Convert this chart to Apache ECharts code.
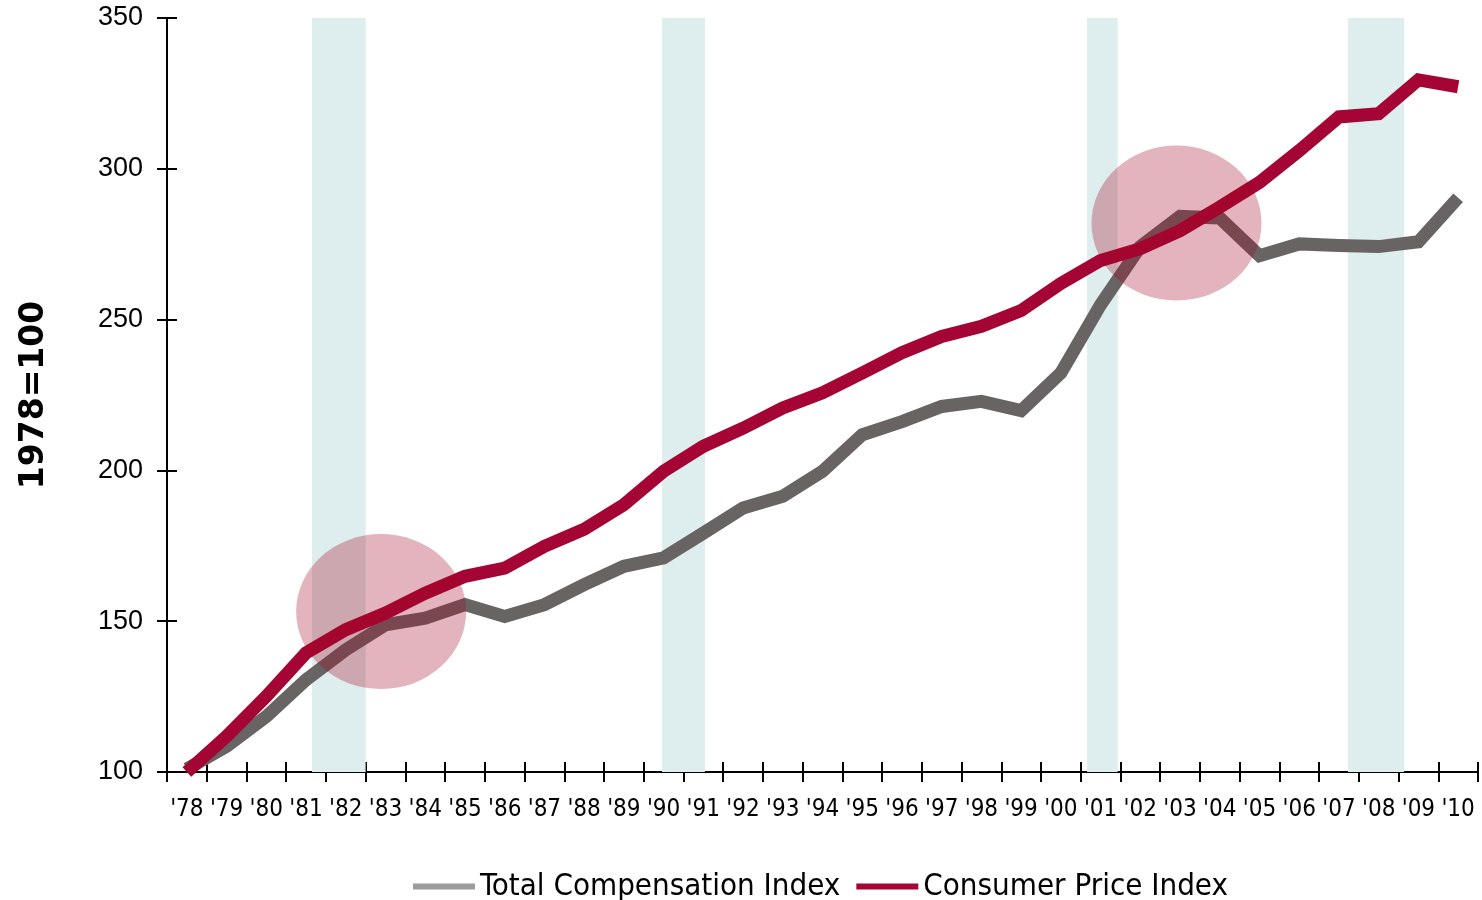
<!DOCTYPE html>
<html lang="en">
<head>
    <meta charset="UTF-8">
    <title>Total Compensation vs Consumer Price Index</title>
    <script src="https://cdn.jsdelivr.net/npm/echarts@6/dist/echarts.min.js"></script>
    <style>
        body { margin: 0; padding: 0; background: #fff; }
        #main { width: 1482px; height: 900px; }
    </style>
</head>
<body>
    <div id="main"></div>
    <script>
        const years = ["'78","'79","'80","'81","'82","'83","'84","'85","'86","'87","'88","'89","'90","'91","'92","'93","'94","'95","'96","'97","'98","'99","'00","'01","'02","'03","'04","'05","'06","'07","'08","'09","'10"];
        const compensation = [101, 108.5, 118.4, 130.6, 140.5, 148.8, 151, 155.5, 151.6, 155.5, 162.1, 168.2, 171, 179.2, 187.5, 191.4, 199.7, 211.8, 216.2, 221.2, 222.9, 219.8, 232.3, 254.9, 274.2, 284.2, 283.7, 271.2, 275.1, 274.6, 274.2, 275.8, 290.4];
        const cpi = [100, 111.8, 125.1, 139.5, 147.2, 152.7, 159.3, 164.9, 167.6, 174.8, 180.5, 188.6, 199.7, 208, 214, 220.7, 225.7, 232.3, 239, 244.4, 247.8, 253, 262, 269.6, 273.5, 279.5, 287.3, 295.5, 306, 317.2, 318.3, 329.5, 327.2];
        // recession bands, in category units from the left edge of the axis
        const recessions = [[3.65, 5.0], [12.46, 13.54], [23.16, 23.93], [29.73, 31.14]];
        // highlight circles [x in category units, index value]
        const highlights = [[5.39, 153.2], [25.41, 282.0]];

        const GRAY = '#686463';
        const RED = '#a50534';
        const narrow = "'Liberation Sans Narrow', 'DejaVu Sans Condensed', 'Liberation Sans', sans-serif";

        const chart = echarts.init(document.getElementById('main'));
        chart.setOption({
            animation: false,
            grid: { left: 167, right: 4, top: 18, bottom: 128 },
            xAxis: [
                {
                    type: 'category', data: years, boundaryGap: true,
                    axisLine: { lineStyle: { color: '#000', width: 2 } },
                    axisTick: { show: true, interval: 0, length: 10, lineStyle: { color: '#000', width: 2 } },
                    axisLabel: { interval: 0, margin: 26, color: '#000', fontSize: 24, fontFamily: narrow }
                },
                { type: 'value', min: 0, max: years.length, show: false },
                {
                    type: 'category', data: years, boundaryGap: true, position: 'bottom',
                    axisLine: { show: false },
                    axisTick: { show: true, inside: true, interval: 0, length: 10, lineStyle: { color: '#000', width: 2 } },
                    axisLabel: { show: false }
                }
            ],
            yAxis: [
                {
                    type: 'value', min: 100, max: 350, interval: 50,
                    name: '1978=100', nameLocation: 'middle', nameGap: 116, nameRotate: 90,
                    nameTextStyle: { fontFamily: 'DejaVu Sans', fontWeight: 'bold', fontSize: 33, color: '#000' },
                    axisLine: { show: true, lineStyle: { color: '#000', width: 2 } },
                    axisTick: { show: true, length: 10, lineStyle: { color: '#000', width: 2 } },
                    axisLabel: { margin: 24, color: '#000', fontSize: 27, fontFamily: 'Liberation Sans' },
                    splitLine: { show: false }
                },
                {
                    type: 'value', min: 100, max: 350, interval: 50, position: 'left',
                    axisLine: { show: false },
                    axisTick: { show: true, inside: true, length: 10, lineStyle: { color: '#000', width: 2 } },
                    axisLabel: { show: false },
                    splitLine: { show: false }
                }
            ],
            legend: {
                left: 408, top: 866,
                itemWidth: 62, itemHeight: 6, itemGap: 16,
                textStyle: { fontSize: 31, fontFamily: narrow, color: '#000' },
                data: [
                    { name: 'Total Compensation Index', icon: 'rect', itemStyle: { color: '#9c9c9c' } },
                    { name: 'Consumer Price Index', icon: 'rect', itemStyle: { color: RED } }
                ]
            },
            series: [
                {
                    name: 'bands', type: 'line', xAxisIndex: 1, data: [], silent: true, z: 1,
                    markArea: {
                        silent: true,
                        itemStyle: { color: '#deeded' },
                        data: recessions.map(r => [{ xAxis: r[0] }, { xAxis: r[1] }])
                    }
                },
                {
                    name: 'Total Compensation Index', type: 'line', data: compensation, z: 3,
                    symbol: 'none', color: GRAY,
                    lineStyle: { color: GRAY, width: 13, join: 'miter' }
                },
                {
                    name: 'Consumer Price Index', type: 'line', data: cpi, z: 4,
                    symbol: 'none', color: RED,
                    lineStyle: { color: RED, width: 13, join: 'miter' }
                },
                {
                    name: 'highlights', type: 'scatter', xAxisIndex: 1, data: highlights, z: 5,
                    silent: true, symbol: 'circle', symbolSize: [170, 155],
                    itemStyle: { color: '#a30723', opacity: 0.3 }
                }
            ]
        });
    </script>
</body>
</html>
